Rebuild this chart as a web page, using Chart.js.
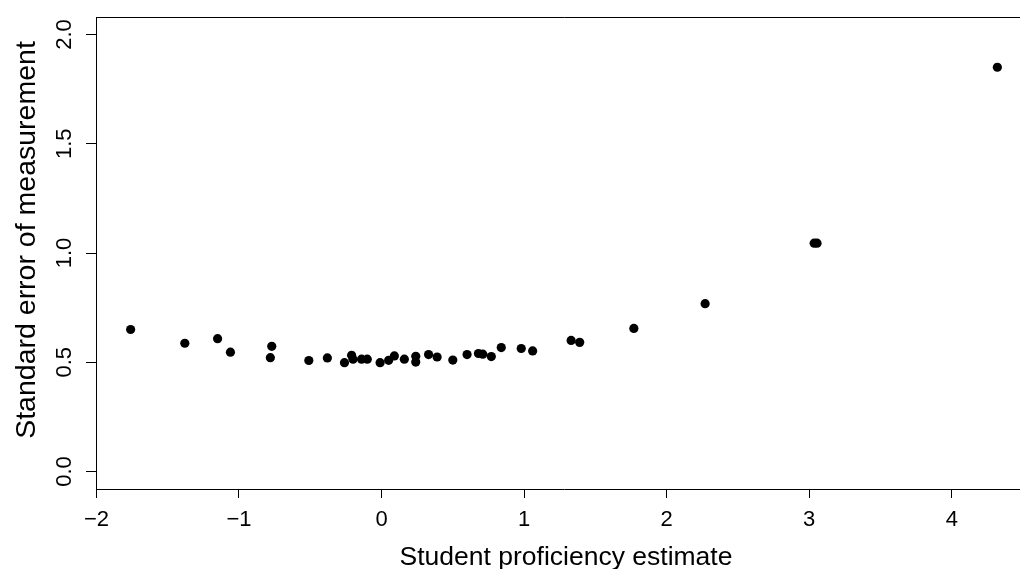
<!DOCTYPE html>
<html>
<head>
<meta charset="utf-8">
<script src="https://cdn.jsdelivr.net/npm/chart.js@4.4.0/dist/chart.umd.min.js"></script>
<style>
  html, body { margin: 0; padding: 0; background: #fff; overflow: hidden; }
  #wrap { width: 1040px; height: 569px; }
</style>
</head>
<body>
<div id="wrap"><canvas id="seChart" width="1040" height="569"></canvas></div>
<script>
// Student proficiency estimates (x) and their standard errors (y)
const proficiency = [
  -1.76, -1.38, -1.15, -1.06, -0.77, -0.78, -0.51, -0.38,
  -0.26, -0.21, -0.20, -0.14, -0.10, -0.01, 0.05, 0.09,
  0.16, 0.24, 0.24, 0.33, 0.39, 0.50, 0.60, 0.68,
  0.71, 0.77, 0.84, 0.98, 1.06, 1.33, 1.39, 1.77,
  2.27, 3.035, 3.055, 4.32
];
const standardError = [
  0.650, 0.587, 0.608, 0.546, 0.573, 0.521, 0.508, 0.520,
  0.498, 0.532, 0.514, 0.514, 0.514, 0.498, 0.509, 0.529,
  0.514, 0.527, 0.501, 0.535, 0.524, 0.510, 0.535, 0.540,
  0.537, 0.526, 0.567, 0.563, 0.552, 0.600, 0.591, 0.655,
  0.768, 1.045, 1.045, 1.850
];

const xTicks = [-2, -1, 0, 1, 2, 3, 4];
const yTicks = [0, 0.5, 1, 1.5, 2];
const xTickLabels = ["\u22122", "\u22121", "0", "1", "2", "3", "4"];
const yTickLabels = ["0.0", "0.5", "1.0", "1.5", "2.0"];
const xTitle = "Student proficiency estimate";
const yTitle = "Standard error of measurement";

const FONT = '"Liberation Sans", Arial, Helvetica, sans-serif';

// R-style frame, tick labels and axis titles
const rAxesPlugin = {
  id: "rAxes",
  afterDraw(chart) {
    const { ctx, chartArea, scales } = chart;
    ctx.save();
    ctx.strokeStyle = "#000";
    ctx.lineWidth = 1;
    ctx.beginPath();
    ctx.moveTo(chartArea.left, chartArea.top + 0.5);
    ctx.lineTo(chartArea.right + 0.5, chartArea.top + 0.5);
    ctx.lineTo(chartArea.right + 0.5, chartArea.bottom);
    ctx.stroke();

    ctx.fillStyle = "#000";
    ctx.font = "22px " + FONT;
    ctx.textAlign = "center";
    ctx.textBaseline = "alphabetic";
    xTicks.forEach((v, i) => {
      ctx.fillText(xTickLabels[i], scales.x.getPixelForValue(v), 526);
    });

    yTicks.forEach((v, i) => {
      ctx.save();
      ctx.translate(71, scales.y.getPixelForValue(v));
      ctx.rotate(-Math.PI / 2);
      ctx.fillText(yTickLabels[i], 0, 0);
      ctx.restore();
    });

    ctx.font = "26.5px " + FONT;
    ctx.fillText(xTitle, 566, 565);

    ctx.font = "28.5px " + FONT;
    ctx.save();
    ctx.translate(35, 240);
    ctx.rotate(-Math.PI / 2);
    ctx.fillText(yTitle, 0, 0);
    ctx.restore();
    ctx.restore();
  },
};

const points = proficiency.map((x, i) => ({ x: x, y: standardError[i] }));

new Chart(document.getElementById("seChart"), {
  type: "scatter",
  data: {
    datasets: [
      {
        data: points,
        backgroundColor: "#000",
        borderWidth: 0,
        pointRadius: 4.6,
        pointHoverRadius: 4.6,
      },
    ],
  },
  options: {
    responsive: false,
    animation: false,
    events: [],
    layout: { padding: { left: 0, top: 17, right: 8, bottom: 0 } },
    plugins: {
      legend: { display: false },
      tooltip: { enabled: false },
    },
    scales: {
      x: {
        type: "linear",
        min: -2.003,
        max: 4.563,
        afterBuildTicks: (s) => { s.ticks = xTicks.map((value) => ({ value })); },
        afterFit: (s) => { s.height = 80; },
        ticks: { display: false, autoSkip: false },
        grid: {
          display: true,
          drawOnChartArea: false,
          drawTicks: true,
          tickLength: 9,
          color: "#000",
          lineWidth: 1,
        },
        border: { display: true, color: "#000", width: 1 },
      },
      y: {
        type: "linear",
        min: -0.08,
        max: 2.08,
        afterBuildTicks: (s) => { s.ticks = yTicks.map((value) => ({ value })); },
        afterFit: (s) => { s.width = 96; },
        ticks: { display: false, autoSkip: false },
        grid: {
          display: true,
          drawOnChartArea: false,
          drawTicks: true,
          tickLength: 10,
          color: "#000",
          lineWidth: 1,
        },
        border: { display: true, color: "#000", width: 1 },
      },
    },
  },
  plugins: [rAxesPlugin],
});
</script>
</body>
</html>
